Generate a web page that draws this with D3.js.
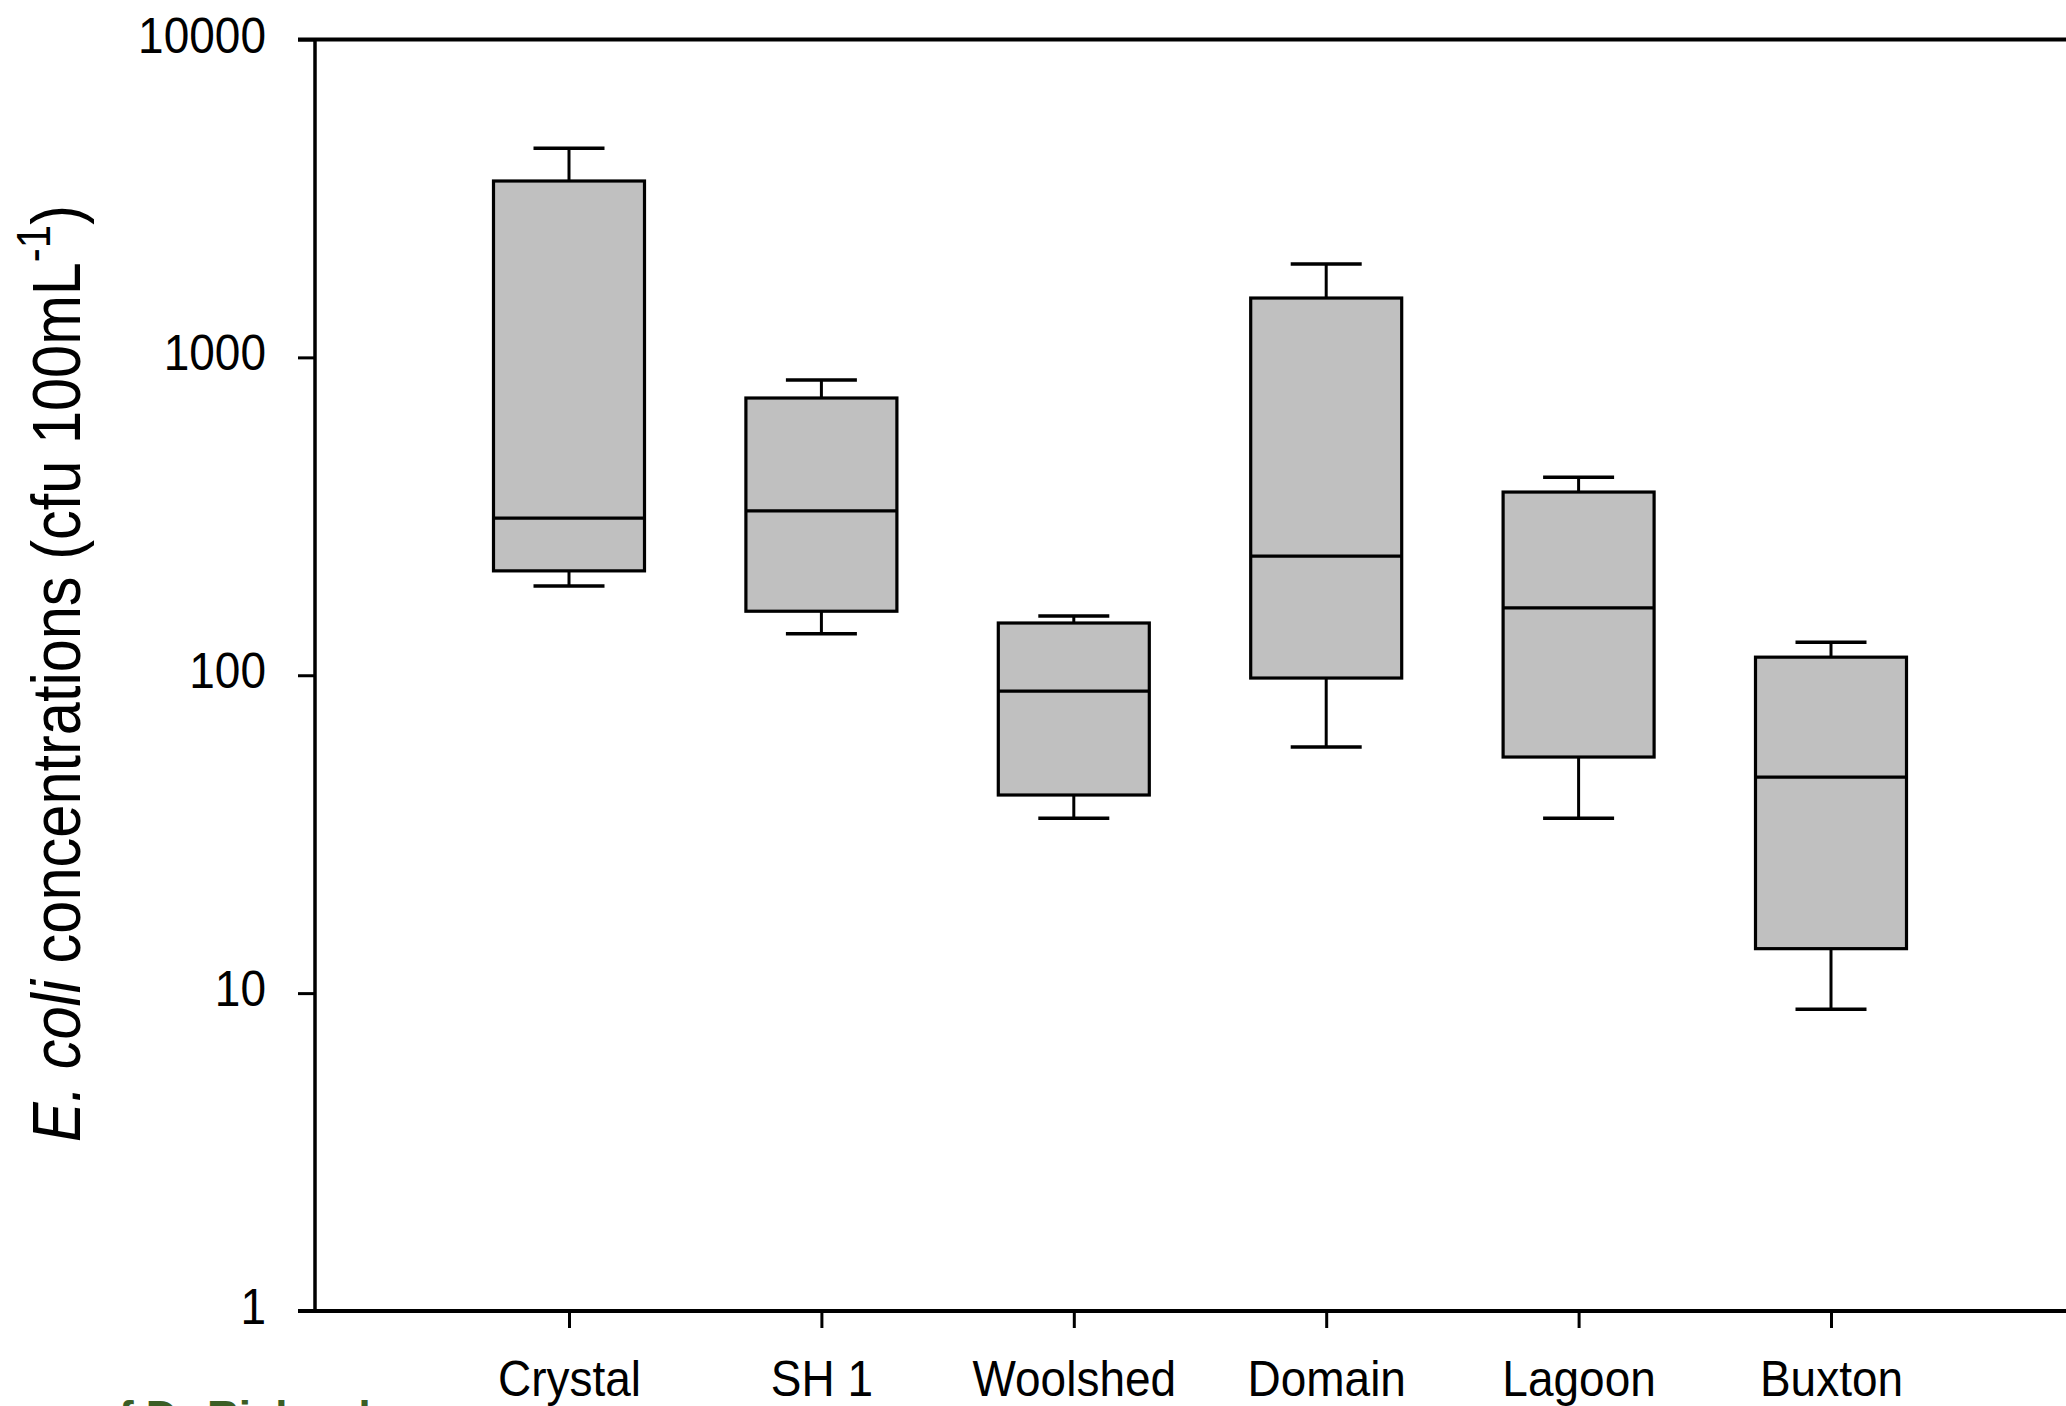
<!DOCTYPE html>
<html>
<head>
<meta charset="utf-8">
<script src="https://cdn.jsdelivr.net/npm/d3@7"></script>
<style>
  html, body { margin: 0; padding: 0; background: #fff; }
  svg { display: block; }
  text { font-family: "Liberation Sans", Arial, sans-serif; fill: #000; }
</style>
</head>
<body>
<svg id="chart" width="2066" height="1406"></svg>
<script>
// ---- data ----
const categories  = ["Crystal", "SH 1", "Woolshed", "Domain", "Lagoon", "Buxton"];
const whiskerLow  = [191, 135, 35.5, 59.5, 35.5, 8.9];
const q1          = [213, 159, 42, 98, 55.3, 13.8];
const median      = [312, 329, 89.2, 237, 163, 47.8];
const q3          = [3588, 745, 146, 1537, 377, 114];
const whiskerHigh = [4550, 849, 153.6, 1965, 420, 127];
const yTicks      = [1, 10, 100, 1000, 10000];

const svg = d3.select("#chart");
const plotLeft = 316.6, plotTop = 39.5, plotBottom = 1311;
const slot = 252.4;

const x = d3.scaleLinear().domain([0, categories.length + 1]).range([plotLeft, plotLeft + slot * (categories.length + 1)]);
const y = d3.scaleLog().domain([1, 10000]).range([plotBottom, plotTop]);

const boxes = categories.map((c, i) => ({
  c, pos: i + 1, lo: whiskerLow[i], q1: q1[i], med: median[i], q3: q3[i], hi: whiskerHigh[i]
}));

const boxHalf = 75.5, capHalf = 35.5;
const g = svg.append("g");

// whiskers
g.selectAll(".wl").data(boxes).join("line")
  .attr("x1", d => x(d.pos)).attr("x2", d => x(d.pos))
  .attr("y1", d => y(d.lo)).attr("y2", d => y(d.q1))
  .attr("stroke", "#000").attr("stroke-width", 3);
g.selectAll(".wh").data(boxes).join("line")
  .attr("x1", d => x(d.pos)).attr("x2", d => x(d.pos))
  .attr("y1", d => y(d.q3)).attr("y2", d => y(d.hi))
  .attr("stroke", "#000").attr("stroke-width", 3);
// caps
g.selectAll(".cl").data(boxes).join("line")
  .attr("x1", d => x(d.pos) - capHalf).attr("x2", d => x(d.pos) + capHalf)
  .attr("y1", d => y(d.lo)).attr("y2", d => y(d.lo))
  .attr("stroke", "#000").attr("stroke-width", 3.5);
g.selectAll(".ch").data(boxes).join("line")
  .attr("x1", d => x(d.pos) - capHalf).attr("x2", d => x(d.pos) + capHalf)
  .attr("y1", d => y(d.hi)).attr("y2", d => y(d.hi))
  .attr("stroke", "#000").attr("stroke-width", 3.5);
// boxes
g.selectAll(".box").data(boxes).join("rect")
  .attr("x", d => x(d.pos) - boxHalf).attr("width", boxHalf * 2)
  .attr("y", d => y(d.q3)).attr("height", d => y(d.q1) - y(d.q3))
  .attr("fill", "#c0c0c0").attr("stroke", "#000").attr("stroke-width", 3.2);
// medians
g.selectAll(".med").data(boxes).join("line")
  .attr("x1", d => x(d.pos) - boxHalf).attr("x2", d => x(d.pos) + boxHalf)
  .attr("y1", d => y(d.med)).attr("y2", d => y(d.med))
  .attr("stroke", "#000").attr("stroke-width", 3.2);

// ---- axes ----
const tickLen = 17;
const yAxis = d3.axisLeft(y).tickValues(yTicks).tickFormat(d3.format("d")).tickSize(tickLen).tickPadding(32);
const ya = svg.append("g").attr("transform", "translate(315,0)").call(yAxis);
ya.select(".domain").remove();
ya.selectAll(".tick line").attr("stroke", "#000").attr("stroke-width", 3);
ya.selectAll(".tick text")
  .attr("font-size", 50).attr("font-family", "Liberation Sans, Arial, sans-serif")
  .attr("x", -(tickLen + 32) / 0.92).attr("dy", "0.25em")
  .attr("transform", "scale(0.92,1)");

const xAxis = d3.axisBottom(x).tickValues(boxes.map(d => d.pos)).tickFormat(p => categories[p - 1]).tickSize(tickLen);
const xa = svg.append("g").attr("transform", `translate(0,${plotBottom})`).call(xAxis);
xa.select(".domain").remove();
xa.selectAll(".tick line").attr("stroke", "#000").attr("stroke-width", 3);
xa.selectAll(".tick text")
  .attr("font-size", 50).attr("font-family", "Liberation Sans, Arial, sans-serif")
  .attr("y", 85).attr("dy", 0)
  .attr("transform", "scale(0.92,1)");

// frame
const plotRight = x(categories.length + 1);
svg.append("line").attr("x1", 298).attr("x2", plotRight).attr("y1", plotTop).attr("y2", plotTop)
  .attr("stroke", "#000").attr("stroke-width", 4);
svg.append("line").attr("x1", 298).attr("x2", plotRight).attr("y1", plotBottom).attr("y2", plotBottom)
  .attr("stroke", "#000").attr("stroke-width", 4);
svg.append("line").attr("x1", 315).attr("x2", 315).attr("y1", plotTop).attr("y2", plotBottom)
  .attr("stroke", "#000").attr("stroke-width", 3.5);
svg.append("line").attr("x1", plotRight).attr("x2", plotRight).attr("y1", plotTop).attr("y2", plotBottom)
  .attr("stroke", "#000").attr("stroke-width", 3.5);

// y axis title
const title = svg.append("text")
  .attr("transform", "translate(80,673.5) rotate(-90)")
  .attr("text-anchor", "middle")
  .attr("font-size", 68)
  .attr("textLength", 937)
  .attr("lengthAdjust", "spacingAndGlyphs");
title.append("tspan").attr("font-style", "italic").text("E. coli");
title.append("tspan").text(" concentrations (cfu 100mL");
title.append("tspan").attr("font-size", 48).attr("dy", -30).text("-1");
title.append("tspan").attr("dy", 30).text(")");

// cropped caption text at the bottom edge
svg.append("text").attr("x", 92).attr("y", 1432)
  .attr("font-family", "Open Sans, sans-serif").attr("font-size", 44).attr("font-weight", 600)
  .style("fill", "#3b5e25")
  .text("of Dr Richard");
</script>
</body>
</html>
